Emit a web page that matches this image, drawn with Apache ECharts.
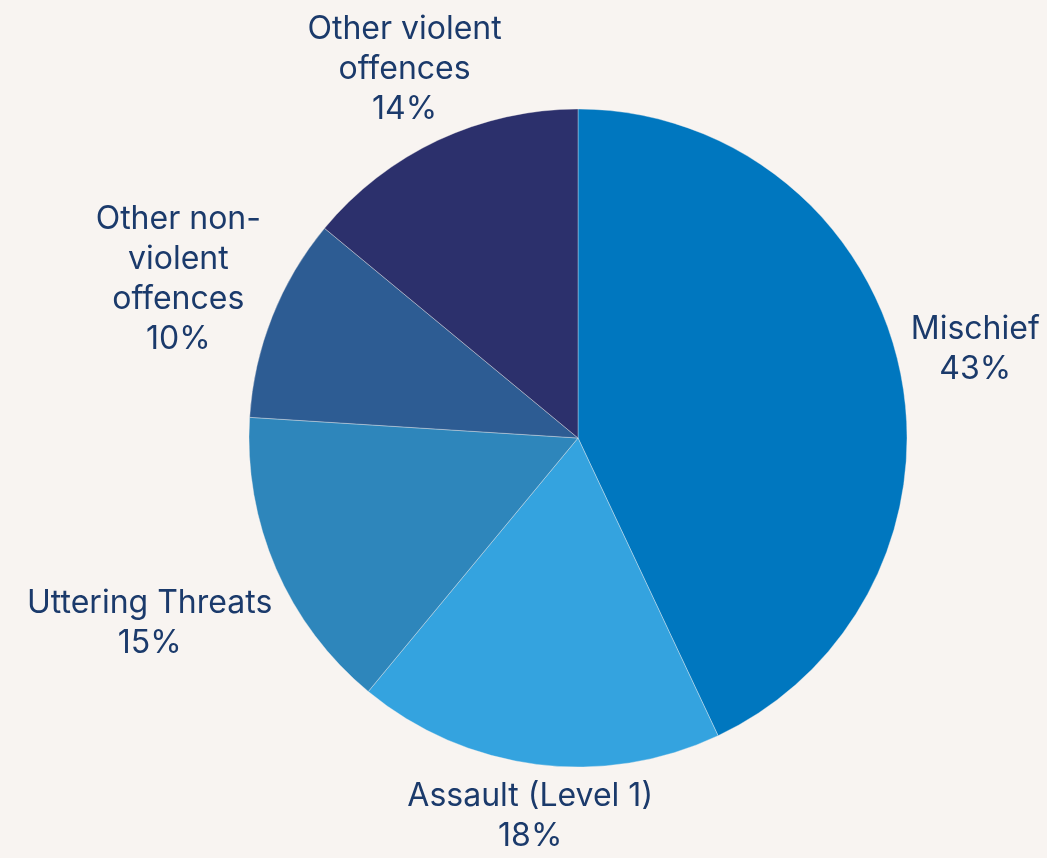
<!DOCTYPE html>
<html>
<head>
<meta charset="utf-8">
<script src="https://cdn.jsdelivr.net/npm/echarts@6/dist/echarts.min.js"></script>
<style>
  html, body { margin: 0; padding: 0; background: #f8f4f1; }
  #chart { width: 1047px; height: 858px; }
</style>
</head>
<body>
<div id="chart"></div>
<script>
// categories and shares (%), clockwise from 12 o'clock
const categories = ['Mischief', 'Assault (Level 1)', 'Uttering Threats', 'Other non-\nviolent\noffences', 'Other violent\noffences'];
const values = [43, 18, 15, 10, 14];
const colors = ['#0077bf', '#34a3df', '#2e86bb', '#2d5c93', '#2c306c'];

const CX = 578, CY = 438, R = 329, GAP = 12;
const FONT_SIZE = 32, LINE_H = 40, FONT = 'Inter';

// mid angle of each slice (radians, clockwise from top)
const total = values.reduce((a, b) => a + b, 0);
let acc = 0;
const midAngles = values.map(v => {
  const m = (acc + v / 2) / total * Math.PI * 2;
  acc += v;
  return m;
});

const ctx = document.createElement('canvas').getContext('2d');
ctx.font = FONT_SIZE + 'px ' + FONT;
const labelText = i => categories[i] + '\n' + values[i] + '%';

const chart = echarts.init(document.getElementById('chart'));

const option = {
  backgroundColor: '#f8f4f1',
  series: [{
    type: 'pie',
    center: [CX, CY],
    radius: [0, R],
    startAngle: 90,
    clockwise: true,
    avoidLabelOverlap: false,
    itemStyle: { borderColor: 'rgba(248,244,241,0.35)', borderWidth: 1 },
    label: {
      show: true,
      position: 'outside',
      formatter: p => p.name + '\n' + p.value + '%',
      fontFamily: FONT,
      fontSize: FONT_SIZE,
      lineHeight: LINE_H,
      color: '#1b3a6b'
    },
    labelLine: { show: false },
    // push each label outward along its slice's mid direction until it clears the pie
    labelLayout: function (p) {
      const a = midAngles[p.dataIndex];
      const ux = Math.sin(a), uy = -Math.cos(a);
      const hw = p.labelRect.width / 2, hh = p.labelRect.height / 2;
      let d = R + GAP + Math.min(Math.abs(ux) > 1e-6 ? hw / Math.abs(ux) : Infinity,
                                 Math.abs(uy) > 1e-6 ? hh / Math.abs(uy) : Infinity);
      const lines = labelText(p.dataIndex).split('\n');
      const widths = lines.map(s => ctx.measureText(s).width);
      const blockH = lines.length * LINE_H;
      // each centred line must also keep the gap from the circle
      const clears = (cx, cy) => lines.every((s, j) => {
        const x0 = cx - widths[j] / 2, x1 = cx + widths[j] / 2;
        const y0 = cy - blockH / 2 + j * LINE_H + 6, y1 = y0 + LINE_H - 12;
        const nx = Math.max(x0, Math.min(CX, x1));
        const ny = Math.max(y0, Math.min(CY, y1));
        return Math.hypot(nx - CX, ny - CY) >= R + GAP;
      });
      for (let k = 0; k < 200 && !clears(CX + ux * d, CY + uy * d); k++) d += 1;
      return {
        x: CX + ux * d,
        y: CY + uy * d,
        align: 'center',
        verticalAlign: 'middle'
      };
    },
    emphasis: { disabled: true },
    data: categories.map((c, i) => ({ name: c, value: values[i], itemStyle: { color: colors[i] } }))
  }]
};

chart.setOption(option);
</script>
</body>
</html>
